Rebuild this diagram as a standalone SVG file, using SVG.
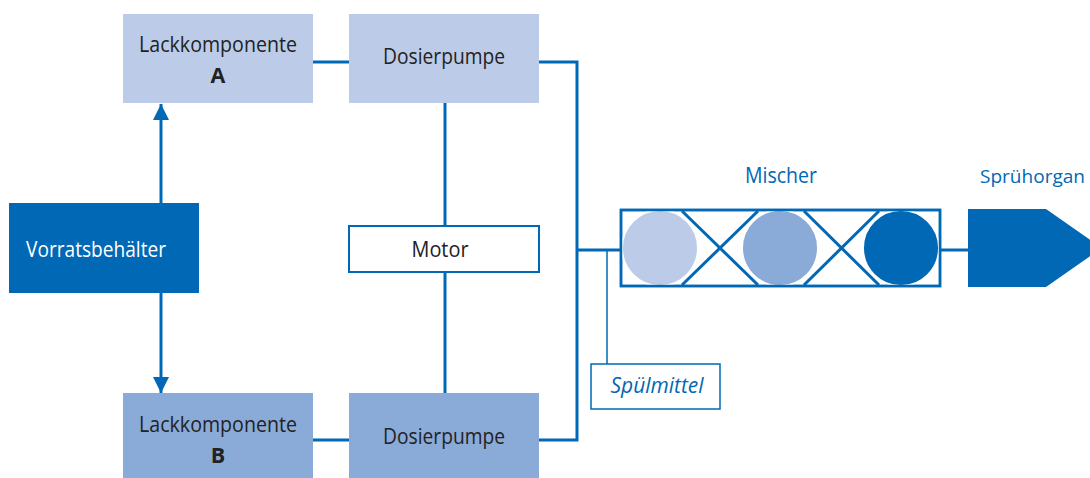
<svg xmlns="http://www.w3.org/2000/svg" width="1090" height="478" viewBox="0 0 1090 478">
<defs>
<style>
.l1{fill:#bccce8}
.l2{fill:#8aaad8}
.dk{fill:#0068b4}
.t{font-family:"Open Sans","Liberation Sans",sans-serif;font-size:21.5px;fill:#222;text-anchor:middle}
.b{font-weight:bold}
.w{fill:#fff}
.bl{fill:#0068b4}
.c{fill:none;stroke:#0068b4;stroke-width:3}
.thin{fill:none;stroke:#0068b4;stroke-width:1.5}
</style>
<marker id="ah" viewBox="0 0 16 16" refX="16" refY="8" markerWidth="16" markerHeight="16" markerUnits="userSpaceOnUse" orient="auto">
<path d="M0,0 L16,8 L0,16 Z" fill="#0068b4"/>
</marker>
</defs>
<rect width="1090" height="478" fill="#fff"/>
<g id="connectors">
<line class="c" x1="161" y1="203" x2="161" y2="104" marker-end="url(#ah)"/>
<line class="c" x1="161" y1="293" x2="161" y2="393" marker-end="url(#ah)"/>
<line class="c" x1="313" y1="62" x2="349" y2="62"/>
<line class="c" x1="313" y1="440" x2="349" y2="440"/>
<polyline class="c" points="539,62 577,62 577,440 539,440"/>
<line class="c" x1="445" y1="103" x2="445" y2="225"/>
<line class="c" x1="445" y1="272" x2="445" y2="393"/>
<line class="c" x1="577" y1="250" x2="621" y2="250"/>
<line class="thin" x1="607" y1="250" x2="607" y2="364"/>
<line class="c" x1="940" y1="250" x2="968" y2="250"/>
</g>
<g id="lackA">
<rect class="l1" x="123" y="14" width="190" height="89"/>
<text class="t" x="218" y="52" textLength="158" lengthAdjust="spacingAndGlyphs">Lackkomponente</text>
<text class="t b" x="218" y="83">A</text>
</g>
<g id="dosierA">
<rect class="l1" x="349" y="14" width="190" height="89"/>
<text class="t" x="444" y="64" textLength="122" lengthAdjust="spacingAndGlyphs">Dosierpumpe</text>
</g>
<g id="vorrat">
<rect class="dk" x="9" y="203" width="190" height="90"/>
<text class="t w" x="96" y="257" textLength="140" lengthAdjust="spacingAndGlyphs">Vorratsbehälter</text>
</g>
<g id="motor">
<rect x="349" y="226" width="190" height="46" fill="#fff" stroke="#0068b4" stroke-width="2"/>
<text class="t" x="440" y="257" textLength="57" lengthAdjust="spacingAndGlyphs">Motor</text>
</g>
<g id="lackB">
<rect class="l2" x="123" y="393" width="190" height="85"/>
<text class="t" x="218" y="432" textLength="158" lengthAdjust="spacingAndGlyphs">Lackkomponente</text>
<text class="t b" x="218" y="463">B</text>
</g>
<g id="dosierB">
<rect class="l2" x="349" y="393" width="190" height="85"/>
<text class="t" x="444" y="444" textLength="122" lengthAdjust="spacingAndGlyphs">Dosierpumpe</text>
</g>
<g id="spuelmittel">
<rect x="591" y="364" width="129" height="45" fill="#fff" stroke="#0068b4" stroke-width="1.5"/>
<text class="t bl" x="657" y="393" font-style="italic" textLength="93" lengthAdjust="spacingAndGlyphs">Spülmittel</text>
</g>
<g id="mischer">
<text class="t bl" x="781" y="183" textLength="72" lengthAdjust="spacingAndGlyphs">Mischer</text>
<rect x="621" y="210" width="319" height="76" fill="#fff" stroke="#0068b4" stroke-width="2.5"/>
<path class="c" stroke-width="2.5" d="M682,211 L758,285 M758,211 L682,285 M804,211 L879,285 M879,211 L804,285"/>
<circle cx="660" cy="248" r="38" fill="#bccce8" stroke="#fff" stroke-width="2"/>
<circle cx="780" cy="248" r="38" fill="#8aaad8" stroke="#fff" stroke-width="2"/>
<circle cx="901" cy="248" r="38" fill="#0068b4" stroke="#fff" stroke-width="2"/>
<rect x="621" y="210" width="319" height="76" fill="none" stroke="#0068b4" stroke-width="2.5"/>
</g>
<g id="spruehorgan">
<text class="t bl" x="980" y="183" style="text-anchor:start;font-size:19px" textLength="105" lengthAdjust="spacingAndGlyphs">Sprühorgan</text>
<polygon class="dk" points="968,209 1046,209 1102,248 1046,287 968,287"/>
</g>
</svg>
